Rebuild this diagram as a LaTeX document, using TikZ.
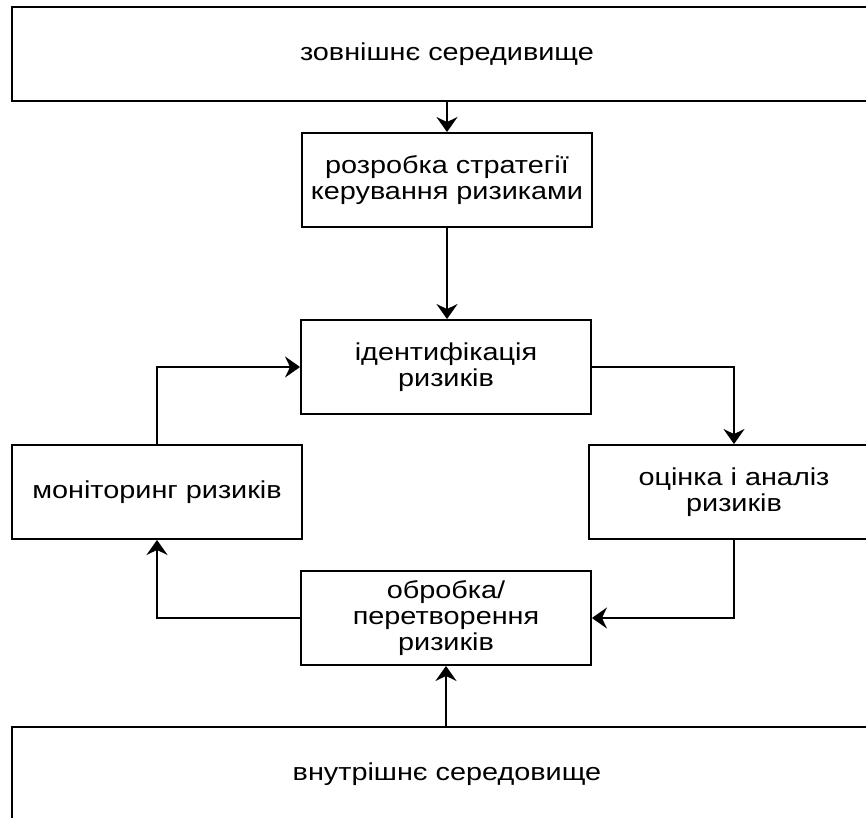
\documentclass[tikz,border=0pt]{standalone}
\usepackage{fontspec}
\setmainfont[FakeStretch=1.18]{Liberation Sans}
\usetikzlibrary{arrows.meta}

\begin{document}
\begin{tikzpicture}[x=0.02cm, y=-0.02cm,
        box/.style={draw, line width=1.1pt, minimum width=5.8cm, minimum height=1.88cm,
            inner sep=0pt, align=center, font=\fontsize{13.9pt}{14.6pt}\selectfont},
        widebox/.style={box, minimum width=17.4cm},
        arr/.style={line width=1.1pt, -{Stealth[length=0.3cm, width=0.42cm, inset=0.1cm]}}]
        \useasboundingbox (0,0) rectangle (866,818);
        \clip (0,0) rectangle (866,818);

        \node[widebox] (zovn) at (447,54) {зовнішнє середивище};
        \node[box] (strat) at (447,180) {розробка стратегії\\керування ризиками};
        \node[box] (ident) at (446,367) {ідентифікація\\ризиків};
        \node[box] (ocin) at (734,492) {оцінка і аналіз\\ризиків};
        \node[box] (obrob) at (446,618) {обробка/\\перетворення\\ризиків};
        \node[box] (monit) at (157,492) {моніторинг ризиків};
        \node[widebox] (vnutr) at (447,774) {внутрішнє середовище};

        \draw[arr] (zovn.south) -- (strat.north);
        \draw[arr] (strat.south) -- (strat.south |- ident.north);
        \draw[arr] (ident.east) -| (ocin.north);
        \draw[arr] (ocin.south) |- (obrob.east);
        \draw[arr] (obrob.west) -| (monit.south);
        \draw[arr] (monit.north) |- (ident.west);
        \draw[arr] (vnutr.north -| obrob.south) -- (obrob.south);
    \end{tikzpicture}
\end{document}
